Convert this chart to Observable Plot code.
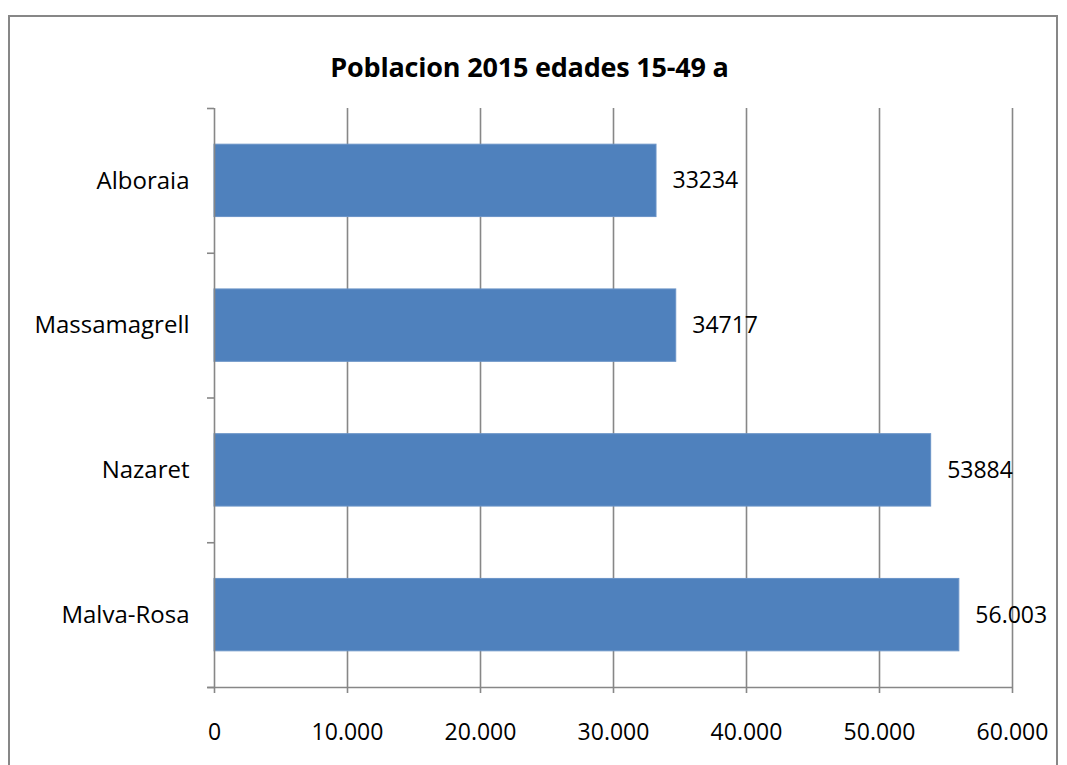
<!DOCTYPE html>
<html>
<head>
<meta charset="utf-8">
<script src="https://cdn.jsdelivr.net/npm/d3@7"></script>
<script src="https://cdn.jsdelivr.net/npm/@observablehq/plot@0.6"></script>
<style>
  html, body { margin: 0; padding: 0; background: #fff; overflow: hidden; }
  #wrap { position: relative; width: 1067px; height: 765px; overflow: hidden; }
  #frame { position: absolute; left: 8px; top: 15px; width: 1050px; height: 820px; border: 2px solid #878787; box-sizing: border-box; }
  #title { position: absolute; left: 0; width: 1059px; top: 48px; text-align: center;
           font-family: "Open Sans", sans-serif; font-weight: 700; font-size: 27px; color: #000; letter-spacing: -0.2px; }
  #chart { position: absolute; left: 0; top: 0; }
</style>
</head>
<body>
<div id="wrap">
  <div id="frame"></div>
  <div id="chart"></div>
  <div id="title">Poblacion 2015 edades 15-49 a</div>
</div>
<script>
// Population aged 15-49 (2015), one bar per area, top to bottom
const areas = ["Alboraia", "Massamagrell", "Nazaret", "Malva-Rosa"];
const population = [33234, 34717, 53884, 56003];
const valueLabels = ["33234", "34717", "53884", "56.003"];
const xTicks = [0, 10000, 20000, 30000, 40000, 50000, 60000];

const rows = areas.map((name, i) => ({
  name,
  value: population[i],
  label: valueLabels[i],
  y1: i + 0.25,
  y2: i + 0.75,
  yc: i + 0.5
}));

const fmt = d => d3.format(",")(d).replace(/,/g, ".");
const font = "Open Sans, sans-serif";
const grey = "#878787";

const chart = Plot.plot({
  width: 1067,
  height: 765,
  marginLeft: 214,
  marginRight: 55,
  marginTop: 108,
  marginBottom: 78,
  style: { fontFamily: font, fontSize: "23px", color: "#000", background: "transparent" },
  x: { domain: [0, 60000] },
  y: { domain: [0, 4], reverse: true },
  marks: [
    // vertical gridlines
    Plot.ruleX(xTicks.slice(1), { stroke: grey, strokeWidth: 1.6, strokeOpacity: 1 }),
    // bars
    Plot.rectX(rows, { x1: 0, x2: "value", y1: "y1", y2: "y2", fill: "#4f81bd", stroke: "#6a93c7", strokeWidth: 1 }),
    // axis lines
    Plot.ruleY([4], { x1: -500, x2: 60000, stroke: grey, strokeWidth: 1.6 }),
    Plot.ruleX([0], { stroke: grey, strokeWidth: 1.6 }),
    // x ticks and labels
    Plot.axisX(xTicks, { tickSize: 6, stroke: grey, strokeWidth: 1.6, tickFormat: fmt, tickPadding: 30, fontSize: 23, label: null }),
    // y tick marks at category boundaries
    Plot.axisY([0, 1, 2, 3, 4], { tickSize: 7, stroke: grey, strokeWidth: 1.6, tickFormat: () => "", label: null }),
    // category labels
    Plot.text(rows, { x: 0, y: "yc", text: "name", textAnchor: "end", dx: -25, fontSize: 24 }),
    // value labels
    Plot.text(rows, { x: "value", y: "yc", text: "label", textAnchor: "start", dx: 16, fontSize: 23 })
  ]
});
document.getElementById("chart").appendChild(chart);
</script>
</body>
</html>
